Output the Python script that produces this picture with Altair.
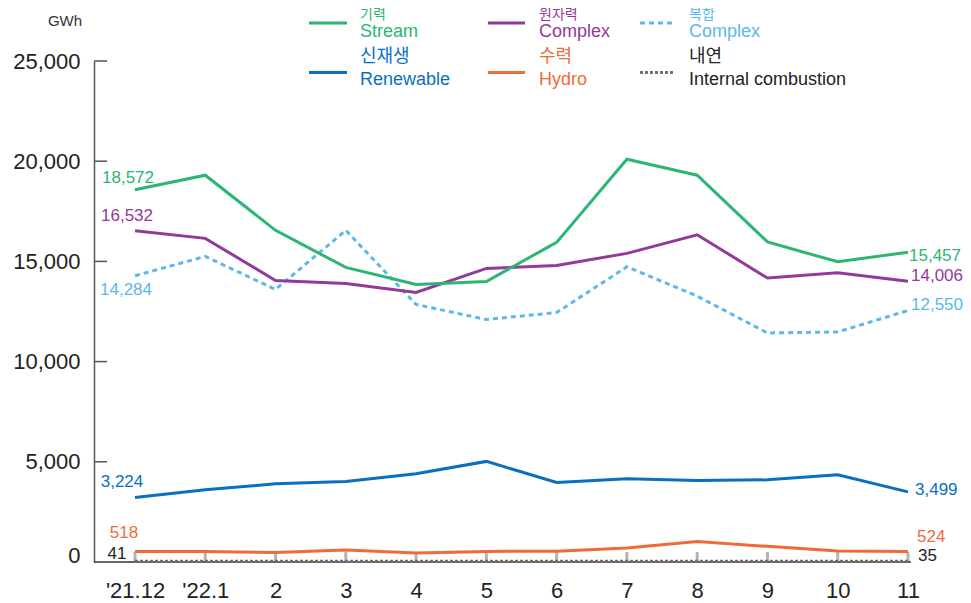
import altair as alt
import pandas as pd

# ---------------- data ----------------
months = ["'21.12", "'22.1", "2", "3", "4", "5", "6", "7", "8", "9", "10", "11"]

stream = [18572, 19300, 16550, 14700, 13850, 14000, 15950, 20100, 19300, 15970, 14980, 15457]
nuclear = [16532, 16150, 14050, 13900, 13450, 14650, 14800, 15400, 16330, 14170, 14430, 14006]
combined = [14284, 15250, 13600, 16550, 12850, 12100, 12450, 14730, 13270, 11430, 11480, 12550]
renewable = [3224, 3600, 3900, 4020, 4400, 5020, 3970, 4160, 4070, 4100, 4350, 3499]
hydro = [518, 518, 480, 600, 450, 530, 540, 700, 1020, 780, 550, 524]
internal = [41, 40, 40, 40, 40, 40, 40, 40, 40, 40, 38, 35]

korean_names = ["기력", "원자력", "복합", "신재생", "수력", "내연"]
english_names = ["Stream", "Complex", "Complex", "Renewable", "Hydro", "Internal combustion"]
y_ticks = [0, 5000, 10000, 15000, 20000, 25000]
unit = "GWh"

# ---------------- styles ----------------
W, H = 816, 501
FONT = "Liberation Sans"
KFONT = "Noto Sans CJK KR"

styles = [
    dict(color="#2bb673", dash=None, start=(-7, -12), end=(1, 4), textcolor="#2bb673"),
    dict(color="#94399a", dash=None, start=(-8, -15), end=(3, -5), textcolor="#94399a"),
    dict(color="#5bb8e8", dash=[5, 4], start=(-9, 14), end=(3, -5), textcolor="#5bb8e8"),
    dict(color="#0a6fbf", dash=None, start=(-13, -15), end=(7, -2), textcolor="#0a6fbf"),
    dict(color="#ef6b3a", dash=None, start=(-11, -19), end=(9, -14), textcolor="#ef6b3a"),
    dict(color="#707070", dash=[3, 2], start=(-18, -7), end=(10, -5), textcolor="#222222"),
]
series_values = [stream, nuclear, combined, renewable, hydro, internal]

# legend layout (plot coordinates)
leg_sym_x = [(215, 253), (394, 431), (546, 580)]
leg_txt_x = [266, 445, 595]
leg_sym_y = [-38, 11.5]
leg_kor_y = [-46, -4]
leg_kor_size = [14, 18]
leg_eng_y = [-29, 19]

x_scale = alt.Scale(type="point", range=[41, 814], padding=0)
x_enc = alt.X(
    "month:N",
    sort=months,
    scale=x_scale,
    axis=alt.Axis(
        title=None, labelAngle=0, labelFontSize=22, labelFont=FONT, labelColor="#222",
        ticks=False, domain=False, grid=False, labelPadding=18,
    ),
)
y_scale = alt.Scale(domain=[0, 25000], nice=False, zero=True)
y_enc = alt.Y(
    "value:Q",
    scale=y_scale,
    axis=alt.Axis(
        title=None, values=y_ticks, format=",.0f", ticks=False, grid=False,
        labelFontSize=22, labelFont=FONT, labelColor="#222", labelPadding=14,
        domainColor="#555", domainWidth=1.5,
        labelBaseline=alt.condition("datum.value == 0", alt.value("alphabetic"), alt.value("middle")),
    ),
)
x_plain = alt.X("month:N", sort=months)
y_plain = alt.Y("value:Q")

layers = []
one = pd.DataFrame({"k": [0]})

# axis-like decorations
mdf = pd.DataFrame({"month": months})
layers.append(
    alt.Chart(mdf).mark_rule(color="#b4b4b4", strokeWidth=3).encode(
        x=x_enc, y=alt.value(H - 10), y2=alt.value(H),
    )
)
tdf = pd.DataFrame({"value": y_ticks[1:]})
layers.append(
    alt.Chart(tdf).mark_rule(color="#555", strokeWidth=1.5).encode(
        y=y_enc, x=alt.value(0), x2=alt.value(13)
    )
)
layers.append(
    alt.Chart(one).mark_rule(color="#333", strokeWidth=1.5).encode(
        x=alt.value(0), x2=alt.value(W + 1), y=alt.value(H)
    )
)

# data lines, drawn bottom-up
for i in [5, 4, 3, 2, 1, 0]:
    st = styles[i]
    df = pd.DataFrame({"month": months, "value": series_values[i]})
    mk = dict(color=st["color"], strokeWidth=3)
    if st["dash"]:
        mk["strokeDash"] = st["dash"]
    layers.append(alt.Chart(df).mark_line(**mk).encode(x=x_plain, y=y_plain))

# first / last value labels
for i in range(6):
    st = styles[i]
    vals = series_values[i]
    for idx, key, align in [(0, "start", "center"), (len(months) - 1, "end", "left")]:
        ldf = pd.DataFrame({"month": [months[idx]], "value": [vals[idx]]})
        dx, dy = st[key]
        layers.append(
            alt.Chart(ldf).mark_text(
                align=align, baseline="middle", dx=dx, dy=dy, fontSize=17, font=FONT,
                color=st["textcolor"],
            ).encode(x=x_plain, y=y_plain, text=alt.Text("value:Q", format=","))
        )

# legend
for i in range(6):
    st = styles[i]
    col, row = i % 3, i // 3
    rk = dict(color=st["color"], strokeWidth=3)
    if st["dash"]:
        rk["strokeDash"] = st["dash"]
    layers.append(
        alt.Chart(one).mark_rule(**rk).encode(
            x=alt.value(leg_sym_x[col][0]), x2=alt.value(leg_sym_x[col][1]), y=alt.value(leg_sym_y[row])
        )
    )
    layers.append(
        alt.Chart(one).mark_text(
            text=korean_names[i], align="left", baseline="middle", fontSize=leg_kor_size[row],
            font=KFONT, color=st["textcolor"],
        ).encode(x=alt.value(leg_txt_x[col]), y=alt.value(leg_kor_y[row]))
    )
    layers.append(
        alt.Chart(one).mark_text(
            text=english_names[i], align="left", baseline="middle", fontSize=18, font=FONT,
            color=st["textcolor"],
        ).encode(x=alt.value(leg_txt_x[col]), y=alt.value(leg_eng_y[row]))
    )

# unit label
layers.append(
    alt.Chart(one).mark_text(
        text=unit, align="center", baseline="middle", fontSize=15, font=FONT, color="#333"
    ).encode(x=alt.value(-29), y=alt.value(-40))
)

chart = (
    alt.layer(*layers)
    .properties(
        width=W, height=H,
        autosize=alt.AutoSizeParams(type="none"),
        padding={"left": 86, "top": 53, "right": 53, "bottom": 41},
        background="white",
    )
    .configure_view(stroke=None)
)

chart.save("out.html", embed_options={"renderer": "svg", "actions": False})
